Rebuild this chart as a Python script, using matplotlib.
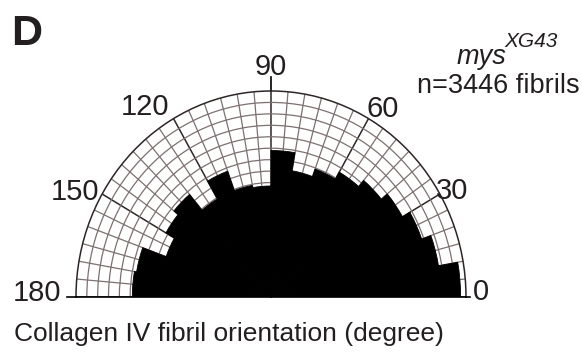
import numpy as np
import matplotlib
matplotlib.use("Agg")
import matplotlib.pyplot as plt
from matplotlib.ticker import MultipleLocator

plt.rcParams['font.family'] = ['Liberation Sans', 'DejaVu Sans']

# rose histogram: 10 degree bins, bar length in grid-ring units (18 rings)
bin_starts = [0, 10, 20, 30, 40, 50, 60, 70, 80,
              90, 100, 110, 120, 130, 140, 150, 160, 170]
bin_lengths = [17.5, 15.7, 14.8, 14.0, 13.3, 12.6, 11.9, 11.2, 12.8,
               9.7, 9.9, 11.7, 9.9, 11.7, 11.2, 10.3, 12.6, 12.8]
tick_angles = [0, 30, 60, 90, 120, 150, 180]
n_rings = 18

W, H = 582, 352


def fx(x):
    return x / W


def fy(y):
    return 1 - y / H


fig = plt.figure(figsize=(W / 100, H / 100), dpi=100)
# with aspect 'auto' the half disc fills the middle half of the box height,
# so the box is twice the wanted height and centred on the baseline
ax = fig.add_axes([fx(76), fy(400), 390 / W, 412 / H], projection='polar')
ax.set_thetamin(0)
ax.set_thetamax(180)
ax.set_ylim(0, n_rings)
ax.set_aspect('auto')

theta = np.deg2rad(np.array(bin_starts) + 5)
ax.bar(theta, bin_lengths, width=np.deg2rad(10), color='black',
       edgecolor='black', linewidth=0.6, align='center', zorder=3)

ax.set_axisbelow(True)
ax.set_xticks(np.deg2rad(tick_angles))
ax.xaxis.set_minor_locator(MultipleLocator(np.deg2rad(5)))
ax.set_yticks(np.arange(1, n_rings))
ax.set_xticklabels([])
ax.set_yticklabels([])
ax.tick_params(which='both', length=0)
ax.xaxis.grid(True, which='major', color='#2e2626', lw=1.1)
ax.xaxis.grid(True, which='minor', color='#7d7070', lw=0.9)
ax.yaxis.grid(True, color='#7d7070', lw=0.9)
ax.spines['polar'].set_color('#2e2626')
ax.spines['polar'].set_linewidth(1.1)
for s in ('start', 'end'):
    ax.spines[s].set_color('black')
    ax.spines[s].set_linewidth(1.2)

# tick extensions beyond the outer circle
ax.plot([0, 0], [n_rings, 18.4], color='black', lw=1.2, clip_on=False)
ax.plot([np.pi, np.pi], [n_rings, 18.85], color='black', lw=1.2, clip_on=False)
ax.plot([np.pi / 2, np.pi / 2], [n_rings, 19.2], color='black', lw=1.2,
        clip_on=False)

label_pos = {0: (1.4, 19.4), 30: (29, 19.15), 60: (58, 19.4), 90: (90, 20.1),
             120: (125, 20.3), 150: (153, 20.3), 180: (179, 21.6)}
for a in tick_angles:
    ang, r = label_pos[a]
    ax.text(np.deg2rad(ang), r, str(a), ha='center', va='center',
            fontsize=21, color='#231f20', clip_on=False)

fig.text(fx(11), fy(45), 'D', fontsize=31, fontweight='bold',
         color='#231f20', va='baseline', ha='left')
fig.text(fx(457), fy(64), 'mys', fontsize=19.5, style='italic',
         color='#231f20', va='baseline', ha='left')
fig.text(fx(504), fy(47), 'XG43', fontsize=15, style='italic',
         color='#231f20', va='baseline', ha='left')
fig.text(fx(580), fy(93), 'n=3446 fibrils', fontsize=19.5,
         color='#231f20', va='baseline', ha='right')
fig.text(fx(229), fy(341), 'Collagen IV fibril orientation (degree)',
         fontsize=19, color='#231f20', va='baseline', ha='center')

fig.savefig('out.png', dpi=100)
